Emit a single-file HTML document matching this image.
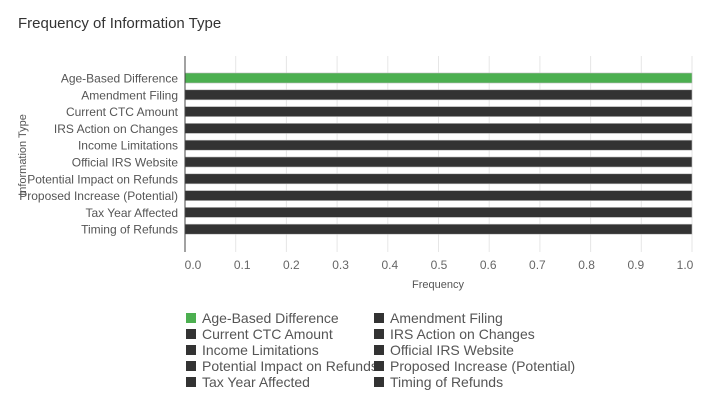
<!DOCTYPE html>
<html><head><meta charset="utf-8"><style>
body{margin:0;background:#fff;font-family:"Liberation Sans",sans-serif}
</style></head><body>
<svg width="708" height="406" id="c" xmlns="http://www.w3.org/2000/svg">
<text x="18" y="28" font-size="15" fill="#333">Frequency of Information Type</text>
</svg>
<script>
const categories=["Age-Based Difference","Amendment Filing","Current CTC Amount","IRS Action on Changes","Income Limitations","Official IRS Website","Potential Impact on Refunds","Proposed Increase (Potential)","Tax Year Affected","Timing of Refunds"];
const values=[1,1,1,1,1,1,1,1,1,1];
const tickLabels=["0.0","0.1","0.2","0.3","0.4","0.5","0.6","0.7","0.8","0.9","1.0"];
const tickValues=[0,0.1,0.2,0.3,0.4,0.5,0.6,0.7,0.8,0.9,1.0];
const svg=document.getElementById('c');const NS="http://www.w3.org/2000/svg";
function mk(t,a,p){const e=document.createElementNS(NS,t);for(const k in a)e.setAttribute(k,a[k]);(p||svg).appendChild(e);return e;}
const x=v=>185+v*507;
const lx=v=>193+v*492;
const y=i=>78+i*16.8;
const colors=categories.map((c,i)=>i===0?"#4caf50":"#333333");
tickValues.forEach((v,i)=>{
 if(v>0){const g=mk('line',{x1:x(v),x2:x(v),y1:56,y2:252,stroke:'#e6e6e6'});
 
 }
 const t=mk('text',{x:lx(v),y:269,'font-size':12,fill:'#666','text-anchor':'middle'});t.textContent=tickLabels[i];
 
 
});
categories.forEach((c,i)=>{
 const b=mk('rect',{x:x(0),y:y(i)-5,width:x(values[i])-x(0),height:10,fill:colors[i],stroke:'#bbb','stroke-width':0.6});
 
 
 const t=mk('text',{x:178,y:y(i)+4.5,'font-size':12,fill:'#555','text-anchor':'end'});t.textContent=c;
 
 
});
const ax=mk('line',{x1:185,x2:185,y1:56,y2:252,stroke:'#444'});


const xt=mk('text',{x:438,y:288,'font-size':11,fill:'#555','text-anchor':'middle'});xt.textContent="Frequency";


const yt=mk('text',{x:0,y:0,'font-size':11,fill:'#555','text-anchor':'middle',transform:'translate(26,155) rotate(-90)'});yt.textContent="Information Type";


categories.forEach((c,i)=>{
 const col=i%2,row=Math.floor(i/2);
 const g=mk('g',{});
 
 
 const bx=col?374:186,by=318+row*16;
 mk('rect',{x:bx,y:by-5,width:10,height:10,fill:colors[i]},g);
 const t=mk('text',{x:bx+16,y:by+5,'font-size':14,fill:'#555'},g);t.textContent=c;
});
</script>
</body></html>
